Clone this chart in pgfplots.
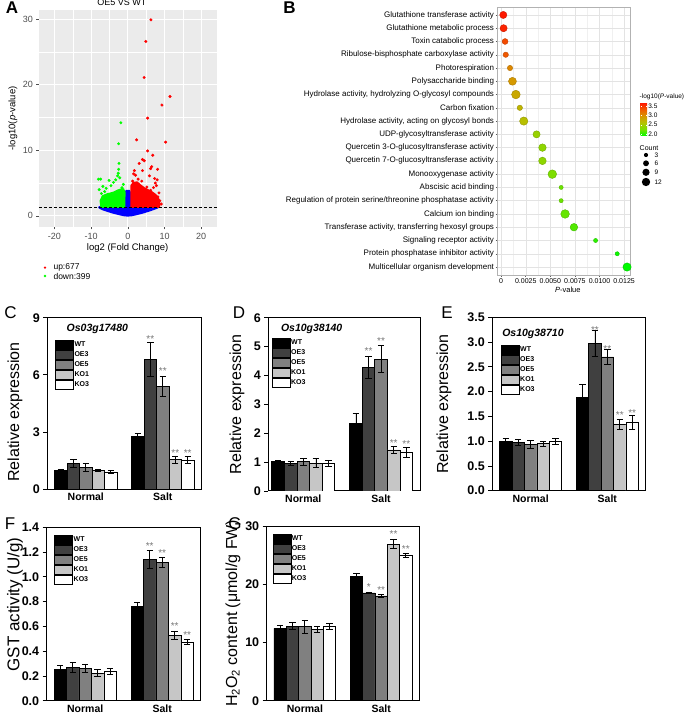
\documentclass[border=0pt]{standalone}
\usepackage{fontspec}
\setmainfont{Liberation Sans}
\usepackage{pgfplots}
\pgfplotsset{compat=1.18}
\usepackage{pgfplotstable}

\definecolor{oe3}{RGB}{64,64,64}
\definecolor{oe5}{RGB}{128,128,128}
\definecolor{ko1}{RGB}{198,198,198}
\definecolor{ggbg}{RGB}{235,235,235}
\definecolor{ggtxt}{RGB}{77,77,77}
\definecolor{starg}{RGB}{120,120,120}

% GO enrichment: p-value, row, -log10(p), gene count
\pgfplotstableread{
p       row  lg    cnt
0.00022 20   3.66  9
0.00025 19   3.60  9
0.00040 18   3.40  6
0.00047 17   3.33  5
0.00090 16   3.05  5
0.00115 15   2.94  11
0.00150 14   2.82  13
0.00190 13   2.72  5
0.00230 12   2.64  12
0.00360 11   2.44  9
0.00420 10   2.38  10
0.00420 9    2.38  10
0.00520 8    2.28  13
0.00610 7    2.21  3
0.00610 6    2.21  3
0.00650 5    2.19  13
0.00740 4    2.13  10
0.00960 3    2.02  3
0.01180 2    1.93  3
0.01280 1    1.89  12
}\gotable

\pgfplotsset{
  barpanel/.style={
    scale only axis, anchor=south west,
    xmin=-0.5, xmax=1.5, ymin=0,
    xtick={0,1}, xticklabels={Normal,Salt},
    x tick style={draw=none},
    tick pos=left, tick align=outside,
    major tick length=4pt,
    axis line style={line width=1pt},
    y tick style={black, line width=0.8pt},
    /pgf/number format/assume math mode=true,
    yticklabel style={font=\fontsize{12.5}{13}\selectfont\bfseries},
    xticklabel style={font=\fontsize{10.5}{11}\selectfont\bfseries, yshift=3.5pt},
    ylabel style={font=\fontsize{16}{17}\selectfont, anchor=center},
    every axis plot/.append style={ybar, bar width=0.162, bar shift=0pt,
      draw=black, line width=0.7pt,
      error bars/y dir=both, error bars/y explicit,
      error bars/error mark=-,
      error bars/error bar style={black, line width=0.8pt},
      error bars/error mark options={rotate=90, black, mark size=3.2pt, line width=0.8pt},
      legend image code/.code={\draw[#1] (0pt,-4.5pt) rectangle (18pt,4.5pt);}},
    legend style={anchor=north west, draw=none, fill=none, inner sep=0pt,
      row sep=0.3pt, font=\fontsize{7}{7}\selectfont\bfseries,
      nodes={inner sep=0.6pt}},
    legend cell align=left,
  },
}
\tikzset{
  sig/.style={font=\fontsize{10}{10}\selectfont, text=starg, yshift=-2pt},
  gene/.style={font=\fontsize{10.5}{11}\selectfont\bfseries\itshape},
}

\begin{document}
\begin{tikzpicture}[x=1pt,y=1pt]
\useasboundingbox (0pt,0pt) rectangle (685pt,714pt);

% ---------- A: volcano plot ----------
\begin{axis}[scale only axis, anchor=south west, at={(39pt,487pt)},
  width=178pt, height=217pt,
  xmin=-24.2, xmax=24.3, ymin=-1.7, ymax=31.4,
  axis background/.style={fill=ggbg},
  axis line style={draw=none},
  xtick={-20,-10,0,10,20}, ytick={0,10,20,30},
  minor xtick={-15,-5,5,15}, minor ytick={5,15,25},
  grid=both, major grid style={white, line width=0.9pt},
  minor grid style={white, line width=0.4pt},
  tick align=outside, major tick length=2.5pt, minor tick length=0pt,
  tick style={ggtxt, line width=0.5pt}, tick pos=left,
  /pgf/number format/assume math mode=true,
  ticklabel style={font=\fontsize{9}{10}\selectfont, text=ggtxt},
  xlabel={log2 (Fold Change)}, ylabel={-log10(\textit{p}-value)},
  xlabel style={at={(axis description cs:0.498,0)}, anchor=center, yshift=-21pt,
    font=\fontsize{9.5}{10}\selectfont},
  ylabel style={at={(axis description cs:-0.146,0.5)}, anchor=center,
    font=\fontsize{9.5}{10}\selectfont},
  title={OE5 VS WT}, title style={at={(axis description cs:0.465,1)}, anchor=center,
    yshift=1.5pt, font=\fontsize{9}{10}\selectfont},
]
% dense non-significant cloud
\addplot[fill=blue, draw=blue, line width=2.2pt, line join=round] coordinates {
  (-7.8,1.3) (-7.0,1.05) (-6.0,0.85) (-4.0,0.5) (-2.0,0.22) (-1.0,0.1) (0,0.05)
  (1.0,0.1) (2.0,0.22) (4.0,0.5) (6.0,0.85) (7.0,1.05) (8.2,1.3) (0.85,1.3)
  (0.75,3.2) (0.4,3.8) (-0.4,3.8) (-0.75,3.2) (-0.85,1.3)} -- cycle;
% dense down / up clouds
\addplot[fill=green, draw=green, line width=2.2pt, line join=round] coordinates {
  (-7.2,1.4) (-7.4,2.3) (-6.8,3.0) (-5.5,3.3) (-4.0,3.5) (-2.5,3.9)
  (-1.3,4.1) (-0.9,3.6) (-1.0,1.4)} -- cycle;
\addplot[fill=red, draw=red, line width=2.2pt, line join=round] coordinates {
  (1.0,1.4) (1.0,4.6) (1.5,5.0) (2.5,5.1) (3.5,4.6) (4.5,4.2) (5.5,3.9)
  (6.5,3.6) (7.5,3.2) (8.3,2.6) (8.6,1.8) (8.5,1.4)} -- cycle;
\addplot[only marks, mark=*, mark size=1.3pt, red] coordinates {
  (6.3,29.9) (4.9,26.6) (4.45,21.1) (11.5,18.2) (9.3,16.9) (5.4,14.9)
  (10.3,11.25) (2.4,11.6) (5.4,9.9) (6.8,9.25) (4.0,8.6) (4.5,8.4) (3.1,8.0)
  (8.1,7.1) (6.5,7.5) (6.2,7.2) (4.0,6.9) (1.8,6.9) (1.6,6.4) (2.1,6.2)
  (5.9,6.1) (7.3,5.7) (8.0,5.5) (7.5,5.0) (9.1,1.8) (7.0,4.3) (7.8,4.6)
  (8.5,3.5) (6.2,3.9) (5.2,4.4) (3.8,5.3) (2.8,5.6) (1.3,5.3) (7.2,3.2)
  (8.2,2.9) (8.7,2.3) (6.9,2.1) (5.5,2.7) (4.6,3.3) (8.0,1.6) (7.6,2.5)};
\addplot[only marks, mark=*, mark size=1.3pt, green] coordinates {
  (-1.9,14.2) (-2.5,11.0) (-2.4,8.0) (-2.5,7.1) (-2.6,6.5) (-2.8,6.1)
  (-8.0,5.6) (-7.4,5.6) (-5.1,5.4) (-3.9,5.1) (-3.3,5.5) (-1.2,4.8)
  (-7.8,4.0) (-5.9,4.2) (-6.8,4.5) (-2.2,5.8) (-4.6,4.6) (-7.2,3.4)
  (-6.3,3.7) (-1.6,4.3)};
\addplot[black, dashed, line width=0.6pt, dash pattern=on 3pt off 2pt]
  coordinates {(-24.2,1.3) (24.3,1.3)};
\end{axis}
\fill[red] (45pt,446.3pt) circle (1.3pt);
\node[anchor=west, font=\fontsize{8.5}{9}\selectfont] at (50pt,446.3pt) {up:677};
\fill[green] (45pt,438pt) circle (1.3pt);
\node[anchor=west, font=\fontsize{8.5}{9}\selectfont] at (50pt,438pt) {down:399};

% ---------- B: GO bubble plot ----------
\begin{axis}[scale only axis, anchor=south west, at={(497.7pt,439pt)},
  width=132.3pt, height=268pt,
  xmin=-0.00035, xmax=0.0131, ymin=0.4, ymax=20.6,
  xtick={0,0.0025,0.005,0.0075,0.01,0.0125},
  xticklabels={0,0.0025,0.0050,0.0075,0.0100,0.0125},
  minor xtick={0.00125,0.00375,0.00625,0.00875,0.01125},
  scaled x ticks=false,
  ytick={1,...,20},
  yticklabels={{Multicellular organism development},
    {Protein phosphatase inhibitor activity},
    {Signaling receptor activity},
    {Transferase activity, transferring hexosyl groups},
    {Calcium ion binding},
    {Regulation of protein serine/threonine phosphatase activity},
    {Abscisic acid binding},
    {Monooxygenase activity},
    {Quercetin 7-O-glucosyltransferase activity},
    {Quercetin 3-O-glucosyltransferase activity},
    {UDP-glycosyltransferase activity},
    {Hydrolase activity, acting on glycosyl bonds},
    {Carbon fixation},
    {Hydrolase activity, hydrolyzing O-glycosyl compounds},
    {Polysaccharide binding},
    {Photorespiration},
    {Ribulose-bisphosphate carboxylase activity},
    {Toxin catabolic process},
    {Glutathione metabolic process},
    {Glutathione transferase activity}},
  grid=both, major grid style={gray!22, line width=0.45pt},
  minor grid style={gray!12, line width=0.3pt},
  axis line style={gray!60, line width=0.6pt},
  tick align=outside, major tick length=2pt, minor tick length=0pt,
  tick style={gray!70!black, line width=0.5pt}, tick pos=left,
  yticklabel style={font=\fontsize{8}{9}\selectfont, inner sep=1.5pt},
  xticklabel style={font=\fontsize{7}{8}\selectfont, inner sep=1.5pt},
  xlabel={\textit{P}-value},
  xlabel style={at={(axis description cs:0.53,0)}, anchor=center, yshift=-15pt,
    font=\fontsize{7.5}{8}\selectfont},
  colormap={ggc}{rgb255(0cm)=(0,250,0); rgb255(1cm)=(120,225,0);
    rgb255(2cm)=(180,195,0); rgb255(3cm)=(215,150,0);
    rgb255(4cm)=(240,90,0); rgb255(5cm)=(255,20,0)},
  point meta min=1.89, point meta max=3.68,
  colorbar,
  colorbar style={scale only axis, width=6.6pt, height=33.3pt,
    at={(parent axis.north east)}, anchor=north west,
    xshift=2pt, yshift=-95.7pt,
    ytick={2,2.5,3,3.5}, yticklabel pos=right,
    /pgf/number format/assume math mode=true,
    yticklabel style={font=\fontsize{6.5}{7}\selectfont, inner sep=1pt,
      /pgf/number format/.cd, fixed, fixed zerofill, precision=1},
    major tick length=1.5pt, tick style={white}, axis line style={draw=none}},
]
\addplot[scatter, only marks, mark=*, scatter src=explicit,
  visualization depends on={\thisrow{cnt} \as \cnt},
  scatter/@pre marker code/.append style={/tikz/mark size={1.2*sqrt(\cnt)}}]
  table[x=p, y=row, meta=lg] {\gotable};
\end{axis}
\node[anchor=west, inner sep=0pt, font=\fontsize{6.5}{7}\selectfont] at (639.5pt,617.3pt) {-log10(\textit{P}-value)};
\node[anchor=west, inner sep=0pt, font=\fontsize{7}{8}\selectfont] at (639.5pt,566.3pt) {Count};
\fill (646pt,559pt) circle (2.08pt);
\fill (646pt,550.7pt) circle (2.94pt);
\fill (646pt,541.7pt) circle (3.6pt);
\fill (646pt,532pt) circle (4.16pt);
\node[anchor=west, font=\fontsize{6.5}{7}\selectfont] at (651pt,559pt) {3};
\node[anchor=west, font=\fontsize{6.5}{7}\selectfont] at (651pt,550.7pt) {6};
\node[anchor=west, font=\fontsize{6.5}{7}\selectfont] at (651pt,541.7pt) {9};
\node[anchor=west, font=\fontsize{6.5}{7}\selectfont] at (651pt,532pt) {12};

% ---------- C ----------
\begin{axis}[barpanel, at={(47.3pt,224.7pt)}, width=154pt, height=171.6pt,
  ymax=9, ytick={0,3,6,9},
  ylabel={Relative expression},
  ylabel style={at={(axis description cs:-0.21,0.45)}},
  legend style={at={(axis description cs:0.05,0.87)}}]
\addplot[fill=black] coordinates {(-0.324,0.99) +- (0,0.07) (0.676,2.76) +- (0,0.17)};
\addplot[fill=oe3] coordinates {(-0.162,1.36) +- (0,0.22) (0.838,6.82) +- (0,0.88)};
\addplot[fill=oe5] coordinates {(0,1.15) +- (0,0.20) (1,5.38) +- (0,0.52)};
\addplot[fill=ko1] coordinates {(0.162,0.99) +- (0,0.05) (1.162,1.55) +- (0,0.20)};
\addplot[fill=white] coordinates {(0.324,0.91) +- (0,0.09) (1.324,1.54) +- (0,0.19)};
\legend{WT,OE3,OE5,KO1,KO3}
\node[sig] at (axis cs:0.838,8.0) {**};
\node[sig] at (axis cs:1,6.31) {**};
\node[sig] at (axis cs:1.162,2.03) {**};
\node[sig] at (axis cs:1.324,2.03) {**};
\node[gene] at (axis description cs:0.325,0.932) {Os03g17480};
\end{axis}

% ---------- D ----------
\begin{axis}[barpanel, at={(268.3pt,223pt)}, width=151.7pt, height=173.3pt,
  xmin=-0.45, ymax=6, ytick={0,1,2,3,4,5,6},
  ylabel={Relative expression},
  ylabel style={at={(axis description cs:-0.206,0.5)}},
  legend style={at={(axis description cs:0.022,0.885)}}]
\addplot[fill=black] coordinates {(-0.324,1.01) +- (0,0.04) (0.676,2.34) +- (0,0.33)};
\addplot[fill=oe3] coordinates {(-0.162,0.96) +- (0,0.08) (0.838,4.28) +- (0,0.37)};
\addplot[fill=oe5] coordinates {(0,1.02) +- (0,0.12) (1,4.57) +- (0,0.48)};
\addplot[fill=ko1] coordinates {(0.162,0.96) +- (0,0.16) (1.162,1.42) +- (0,0.13)};
\addplot[fill=white] coordinates {(0.324,0.95) +- (0,0.10) (1.324,1.34) +- (0,0.17)};
\legend{WT,OE3,OE5,KO1,KO3}
\node[sig] at (axis cs:0.838,4.91) {**};
\node[sig] at (axis cs:1,5.25) {**};
\node[sig] at (axis cs:1.162,1.73) {**};
\node[sig] at (axis cs:1.324,1.68) {**};
\node[gene] at (axis description cs:0.286,0.935) {Os10g38140};
\end{axis}

% ---------- E ----------
\begin{axis}[barpanel, at={(492.3pt,223.3pt)}, width=153.4pt, height=173.4pt,
  ymax=3.5, ytick={0,0.5,1,1.5,2,2.5,3,3.5},
  yticklabel style={/pgf/number format/.cd, fixed, fixed zerofill, precision=1},
  ylabel={Relative expression},
  ylabel style={at={(axis description cs:-0.315,0.5)}},
  legend style={at={(axis description cs:0.055,0.844)}}]
\addplot[fill=black] coordinates {(-0.324,1.00) +- (0,0.06) (0.676,1.89) +- (0,0.26)};
\addplot[fill=oe3] coordinates {(-0.162,0.97) +- (0,0.06) (0.838,2.97) +- (0,0.26)};
\addplot[fill=oe5] coordinates {(0,0.94) +- (0,0.08) (1,2.70) +- (0,0.15)};
\addplot[fill=ko1] coordinates {(0.162,0.95) +- (0,0.05) (1.162,1.33) +- (0,0.10)};
\addplot[fill=white] coordinates {(0.324,1.00) +- (0,0.06) (1.324,1.37) +- (0,0.14)};
\legend{WT,OE3,OE5,KO1,KO3}
\node[sig] at (axis cs:0.838,3.28) {**};
\node[sig] at (axis cs:1,2.89) {**};
\node[sig] at (axis cs:1.162,1.56) {**};
\node[sig] at (axis cs:1.324,1.61) {**};
\node[gene] at (axis description cs:0.265,0.902) {Os10g38710};
\end{axis}

% ---------- F ----------
\begin{axis}[barpanel, at={(46.7pt,13.3pt)}, width=154pt, height=173.4pt,
  ymax=1.4, ytick={0,0.2,0.4,0.6,0.8,1.0,1.2,1.4},
  yticklabel style={/pgf/number format/.cd, fixed, fixed zerofill, precision=1},
  ylabel={GST activity (U/g)},
  ylabel style={at={(axis description cs:-0.206,0.555)}, font=\fontsize{17}{18}\selectfont},
  legend style={at={(axis description cs:0.049,0.956)}}]
\addplot[fill=black] coordinates {(-0.324,0.253) +- (0,0.030) (0.676,0.760) +- (0,0.030)};
\addplot[fill=oe3] coordinates {(-0.162,0.270) +- (0,0.040) (0.838,1.140) +- (0,0.070)};
\addplot[fill=oe5] coordinates {(0,0.262) +- (0,0.035) (1,1.117) +- (0,0.038)};
\addplot[fill=ko1] coordinates {(0.162,0.223) +- (0,0.030) (1.162,0.528) +- (0,0.035)};
\addplot[fill=white] coordinates {(0.324,0.234) +- (0,0.025) (1.324,0.471) +- (0,0.020)};
\legend{WT,OE3,OE5,KO1,KO3}
\node[sig] at (axis cs:0.838,1.263) {**};
\node[sig] at (axis cs:1,1.209) {**};
\node[sig] at (axis cs:1.162,0.617) {**};
\node[sig] at (axis cs:1.324,0.544) {**};
\end{axis}

% ---------- G ----------
\begin{axis}[barpanel, at={(266.7pt,13.3pt)}, width=152.6pt, height=174.7pt,
  ymax=30, ytick={0,10,20,30},
  ylabel={H\textsubscript{2}O\textsubscript{2} content (μmol/g FW)},
  ylabel style={at={(axis description cs:-0.221,0.5)}},
  legend style={at={(axis description cs:0.037,0.958)}}]
\addplot[fill=black] coordinates {(-0.324,12.4) +- (0,0.6) (0.676,21.3) +- (0,0.5)};
\addplot[fill=oe3] coordinates {(-0.162,12.8) +- (0,0.6) (0.838,18.5) +- (0,0.15)};
\addplot[fill=oe5] coordinates {(0,12.7) +- (0,1.1) (1,18.0) +- (0,0.3)};
\addplot[fill=ko1] coordinates {(0.162,12.3) +- (0,0.5) (1.162,26.9) +- (0,0.8)};
\addplot[fill=white] coordinates {(0.324,12.8) +- (0,0.5) (1.324,25.0) +- (0,0.35)};
\legend{WT,OE3,OE5,KO1,KO3}
\node[sig] at (axis cs:0.838,19.86) {*};
\node[sig] at (axis cs:1,19.29) {**};
\node[sig] at (axis cs:1.162,29.02) {**};
\node[sig] at (axis cs:1.324,26.33) {**};
\end{axis}

% panel letters
\node[font=\fontsize{17}{17}\selectfont\bfseries] at (12pt,706pt) {A};
\node[font=\fontsize{17}{17}\selectfont\bfseries] at (289.5pt,706.5pt) {B};
\node[font=\fontsize{17}{17}\selectfont] at (10.5pt,401pt) {C};
\node[font=\fontsize{17}{17}\selectfont] at (239pt,401pt) {D};
\node[font=\fontsize{17}{17}\selectfont] at (447pt,401pt) {E};
\node[font=\fontsize{17}{17}\selectfont] at (10pt,190pt) {F};
\node[font=\fontsize{17}{17}\selectfont] at (235pt,190pt) {G};
\end{tikzpicture}
\end{document}
